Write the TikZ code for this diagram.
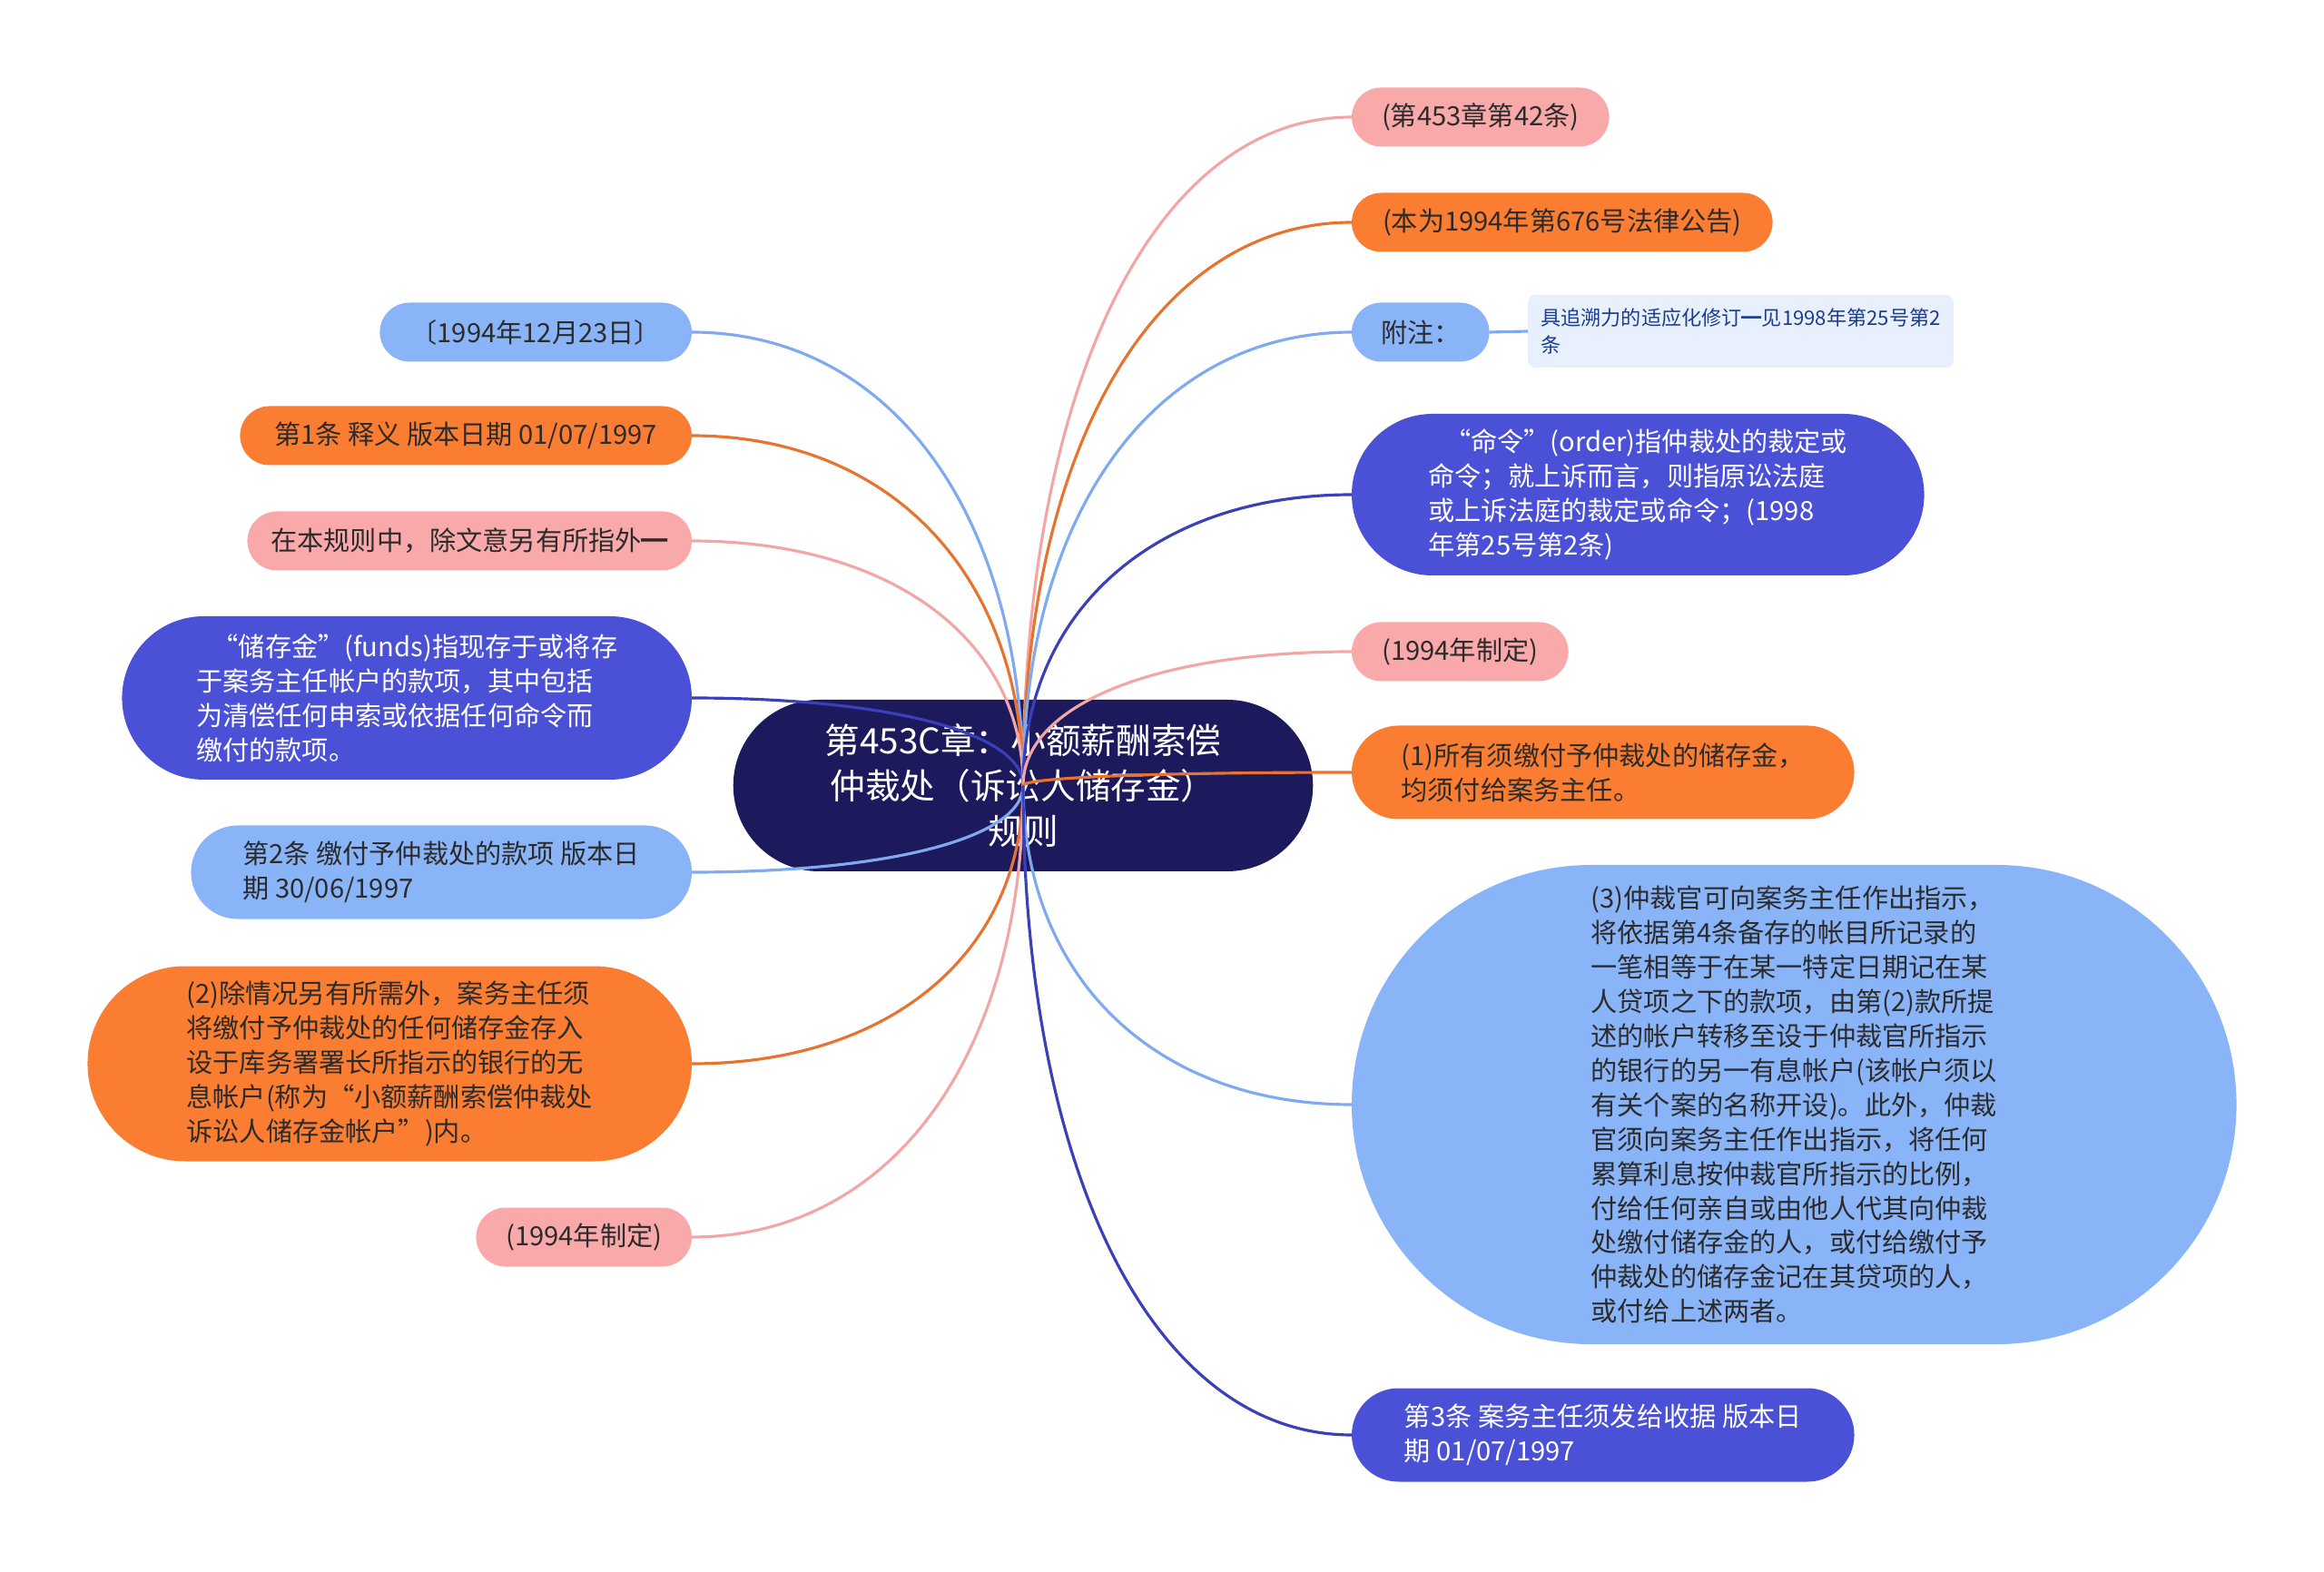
\documentclass[tikz,border=0pt]{standalone}
\usepackage{fontspec}
\setmainfont{Noto Sans CJK SC}
\usepackage{xcolor}
\usetikzlibrary{shapes.misc, calc}

\definecolor{topicnavy}{HTML}{1C1A5D}
\definecolor{brviolet}{HTML}{4A51D6}
\definecolor{brorange}{HTML}{FA7D32}
\definecolor{brpink}{HTML}{F9A9A9}
\definecolor{brblue}{HTML}{8AB4F8}
\definecolor{lnviolet}{HTML}{3A40B8}
\definecolor{lnorange}{HTML}{E8732F}
\definecolor{lnpink}{HTML}{F2A6A6}
\definecolor{lnblue}{HTML}{7FAAF0}
\definecolor{notefill}{HTML}{E8F0FE}
\definecolor{notetext}{HTML}{1B3C8E}
\definecolor{darktext}{HTML}{2B2B2B}

\tikzset{
  topic/.style={rounded rectangle, fill=topicnavy, text=white, outer sep=0pt,
    align=center, font=\fontsize{11}{14.2}\selectfont},
  branch/.style={rounded rectangle, outer sep=0pt, align=left, text=darktext,
    minimum height=0.65cm, font=\fontsize{8.3}{10.8}\selectfont},
  vbranch/.style={branch, fill=brviolet, text=white},
  obranch/.style={branch, fill=brorange},
  pbranch/.style={branch, fill=brpink},
  bbranch/.style={branch, fill=brblue},
  notebox/.style={rectangle, rounded corners=0.8mm, fill=notefill, text=notetext,
    outer sep=0pt, align=left, font=\fontsize{6.3}{8.3}\selectfont},
  link/.style={line width=0.9pt}
}

\begin{document}
\begin{tikzpicture}
\fill[white] (0,0) rectangle (25.6,17.31);
\useasboundingbox (0,0) rectangle (25.6,17.31);

\node[topic, minimum width=6.62cm, minimum height=1.89cm] (main) at (11.27,8.655)
  {第453C章：小额薪酬索偿\\仲裁处（诉讼人储存金）\\规则};

\node[bbranch, anchor=east, minimum width=3.67cm] (l1) at (7.62,13.65) {〔1994年12月23日〕};
\node[obranch, anchor=east, minimum width=5.21cm] (l2) at (7.62,12.51) {第1条 释义 版本日期 01/07/1997};
\node[pbranch, anchor=east, minimum width=5.13cm] (l3) at (7.62,11.35) {在本规则中，除文意另有所指外━};
\node[vbranch, anchor=east, minimum width=6.51cm, minimum height=1.80cm] (l4) at (7.62,9.62)
  {\hspace{0.6em}“储存金”(funds)指现存于或将存\\于案务主任帐户的款项，其中包括\\为清偿任何申索或依据任何命令而\\缴付的款项。};
\node[bbranch, anchor=east, minimum width=5.75cm, minimum height=1.03cm] (l5) at (7.62,7.70)
  {第2条 缴付予仲裁处的款项 版本日\\期 30/06/1997};
\node[obranch, anchor=east, minimum width=6.89cm, minimum height=2.15cm] (l6) at (7.62,5.59)
  {(2)除情况另有所需外，案务主任须\\将缴付予仲裁处的任何储存金存入\\设于库务署署长所指示的银行的无\\息帐户(称为“小额薪酬索偿仲裁处\\诉讼人储存金帐户”)内。};
\node[pbranch, anchor=east, minimum width=2.61cm] (l7) at (7.62,3.68) {(1994年制定)};

\node[pbranch, anchor=west, minimum width=3.07cm] (r1) at (14.89,16.02) {(第453章第42条)};
\node[obranch, anchor=west, minimum width=4.87cm] (r2) at (14.89,14.86) {(本为1994年第676号法律公告)};
\node[bbranch, anchor=west, minimum width=1.75cm] (r3) at (14.89,13.65) {附注：};
\node[notebox, anchor=west, minimum width=4.69cm, minimum height=0.80cm] (note) at (16.83,13.66)
  {具追溯力的适应化修订━见1998年第25号第2\\条};
\node[vbranch, anchor=west, minimum width=6.54cm, minimum height=1.78cm] (r4) at (14.89,11.86)
  {\hspace{0.6em}“命令”(order)指仲裁处的裁定或\\命令；就上诉而言，则指原讼法庭\\或上诉法庭的裁定或命令；(1998\\年第25号第2条)};
\node[pbranch, anchor=west, minimum width=2.62cm] (r5) at (14.89,10.13) {(1994年制定)};
\node[obranch, anchor=west, minimum width=5.77cm, minimum height=1.03cm] (r6) at (14.89,8.80)
  {(1)所有须缴付予仲裁处的储存金，\\均须付给案务主任。};
\node[bbranch, anchor=west, minimum width=9.98cm, minimum height=5.28cm] (r7) at (14.89,5.14)
  {(3)仲裁官可向案务主任作出指示，\\将依据第4条备存的帐目所记录的\\一笔相等于在某一特定日期记在某\\人贷项之下的款项，由第(2)款所提\\述的帐户转移至设于仲裁官所指示\\的银行的另一有息帐户(该帐户须以\\有关个案的名称开设)。此外，仲裁\\官须向案务主任作出指示，将任何\\累算利息按仲裁官所指示的比例，\\付给任何亲自或由他人代其向仲裁\\处缴付储存金的人，或付给缴付予\\仲裁处的储存金记在其贷项的人，\\或付给上述两者。};
\node[vbranch, anchor=west, minimum width=5.77cm, minimum height=1.03cm] (r8) at (14.89,1.50)
  {第3条 案务主任须发给收据 版本日\\期 01/07/1997};

\foreach \nd/\an/\cl in {l1/east/lnblue, l2/east/lnorange, l3/east/lnpink, l4/east/lnviolet,
    l5/east/lnblue, l6/east/lnorange, l7/east/lnpink,
    r1/west/lnpink, r2/west/lnorange, r3/west/lnblue, r4/west/lnviolet,
    r5/west/lnpink, r6/west/lnorange, r7/west/lnblue, r8/west/lnviolet}
  \draw[link, \cl] (main.center)
    .. controls ($(main.center)!0.6!(main.center |- \nd.\an)$)
    and ($(\nd.\an)!0.6!(main.center |- \nd.\an)$) .. (\nd.\an);
\draw[link, lnblue] (r3.east) -- (note.west);
\end{tikzpicture}
\end{document}
